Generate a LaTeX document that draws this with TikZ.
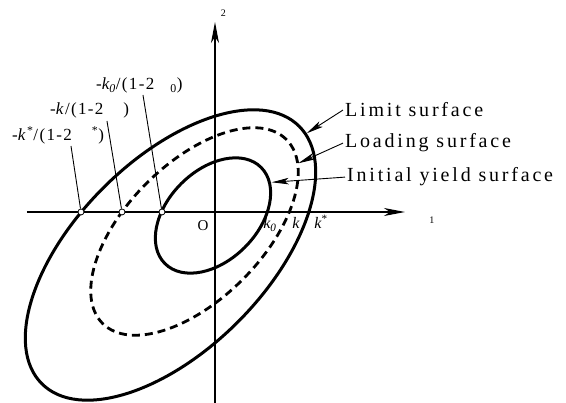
\documentclass[tikz,border=0pt]{standalone}
\usepackage{fontspec}
\setmainfont{Liberation Serif}
\newfontfamily\spacedfont[LetterSpace=14]{Liberation Serif}
\newfontfamily\leadfont[LetterSpace=8]{Liberation Serif}
\usetikzlibrary{arrows.meta}

\begin{document}
\begin{tikzpicture}[
  x=1pt, y=1pt,
  axis/.style={line width=1.2pt, -{Stealth[length=21pt, width=8pt, inset=6pt]}},
  limit/.style={line width=3pt},
  loading/.style={line width=2.8pt, dash pattern=on 8pt off 5pt},
  yieldsurf/.style={line width=3pt},
  hitpt/.style={circle, draw, fill=white, line width=0.8pt, minimum size=6pt, inner sep=0pt},
  lead/.style={line width=0.9pt},
  pointer/.style={line width=0.9pt, -{Stealth[length=17pt, width=6.5pt, inset=4pt]}},
  surfname/.style={anchor=base west, inner sep=2pt, font=\fontsize{20}{23}\selectfont\spacedfont},
  ratio/.style={anchor=base west, inner sep=0pt, font=\fontsize{17}{20}\selectfont\leadfont},
  axlab/.style={inner sep=0pt, font=\fontsize{10}{12}\selectfont}
]
\useasboundingbox (-215,-191) rectangle (351,212);

% axes through the origin
\coordinate (O) at (0,0);
\coordinate (xs) at (-188,0);
\coordinate (xe) at (190,0);
\coordinate (ys) at (0,-191);
\coordinate (ye) at (0,190);
\draw[axis] (xs) -- (xe);
\draw[axis] (ys) -- (ye);
\node[axlab] (n1) at (217,-8) {1};
\node[axlab] (n2) at (8.5,199) {2};
\node[inner sep=0pt, font=\fontsize{15}{18}\selectfont] (o) at (-12,-14) {O};

% the three surfaces, each one larger and moved down the diagonal
\coordinate (cLim) at (-44.5,-43);
\coordinate (cLoad) at (-20.5,-19.5);
\coordinate (cIni) at (-2,-3.5);
\draw[limit, rotate around={45:(cLim)}] (cLim) ellipse [x radius=182pt, y radius=95pt];
\draw[loading, rotate around={45:(cLoad)}] (cLoad) ellipse [x radius=130pt, y radius=68pt];
\draw[yieldsurf, rotate around={45:(cIni)}] (cIni) ellipse [x radius=68pt, y radius=45pt];

% radii on the axis
\node[anchor=base, font=\fontsize{16}{19}\selectfont] (k0) at (55,-17) {\textit{k\textsubscript{0}}};
\node[anchor=base, font=\fontsize{16}{19}\selectfont] (k) at (81,-17) {\textit{k}};
\node[anchor=base, font=\fontsize{16}{19}\selectfont] (ks) at (106,-17) {\textit{k}\textsuperscript{*}};

% hydrostatic intersections and their values
\foreach \n/\x in {1/-134,2/-93,3/-53}
  \node[hitpt] (p\n) at (\x,0) {};
\node[ratio] (r1) at (-203,71) {-\textit{k}\textsuperscript{*}/(1-2\hspace{20pt}\textsuperscript{*})};
\node[ratio] (r2) at (-165,97) {-\textit{k}/(1-2\hspace{20pt})};
\node[ratio] (r3) at (-119,122) {-\textit{k\textsubscript{0}}/(1-2\hspace{16pt}\textsubscript{0})};
\coordinate (t1) at (-144,66);
\coordinate (t2) at (-108,91);
\coordinate (t3) at (-72,117);
\foreach \n in {1,2,3}
  \draw[lead] (p\n) -- (t\n);

% names of the surfaces
\node[surfname] (limtxt) at (128,95) {Limit surface};
\node[surfname] (loadtxt) at (128,64) {Loading surface};
\node[surfname] (initxt) at (130,30) {Initial yield surface};
\coordinate (tLim) at (91.7,78.7);
\coordinate (tLoad) at (83.3,48.7);
\coordinate (tIni) at (56.7,29.7);
\draw[pointer] (limtxt.west) -- (tLim);
\draw[pointer] (loadtxt.west) -- (tLoad);
\draw[pointer] (initxt.west) -- (tIni);

\end{tikzpicture}
\end{document}
